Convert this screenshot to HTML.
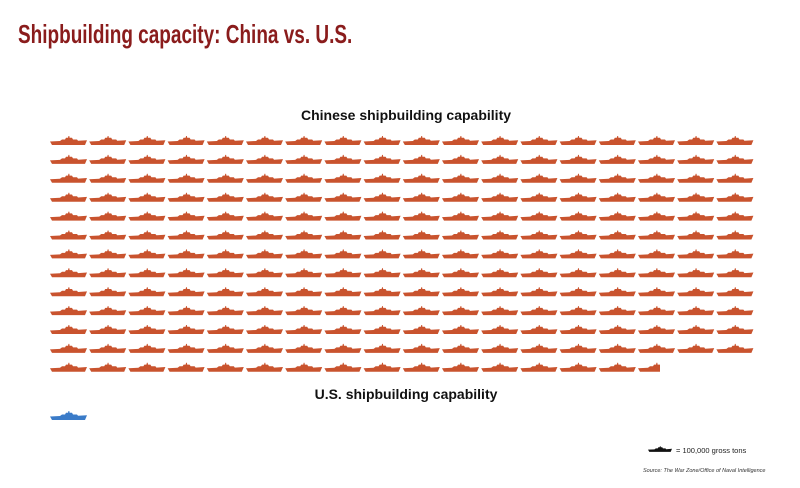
<!DOCTYPE html>
<html><head><meta charset="utf-8"><style>
body{margin:0;width:800px;height:488px;background:#fff;overflow:hidden;position:relative;font-family:"Liberation Sans",sans-serif}
.t{position:absolute;left:18px;top:19px;font-family:"Liberation Sans Narrow","Liberation Sans",sans-serif;font-weight:bold;font-size:26px;color:#8a1c1c;transform:scaleX(.73);transform-origin:left top;white-space:nowrap}
.h{position:absolute;width:800px;left:6px;text-align:center;font-weight:bold;font-size:14px;color:#111}
</style></head><body>
<div class="t">Shipbuilding capacity: China vs. U.S.</div>
<div class="h" style="top:107px">Chinese shipbuilding capability</div>
<div class="h" style="top:386px">U.S. shipbuilding capability</div>
<svg width="800" height="488" style="position:absolute;left:0;top:0">
<defs><symbol id="s" viewBox="0 0 37 9" overflow="visible"><path d="M0,5.5 L10,5 L12,3.5 L15,3.5 L16,1.8 L18,1.8 L18.5,0 L19.3,0 L19.6,1.8 L22,1.8 L23,3.5 L27,3.5 L28,4.8 L37,4.2 L35,9 L2,9 Z"/></symbol>
<clipPath id="c" clipPathUnits="userSpaceOnUse"><rect x="0" y="0" width="660" height="488"/></clipPath></defs>
<g fill="#c9532e" id="g"></g>
<g fill="#c9532e" clip-path="url(#c)"><use href="#s" x="638" y="362.8" width="37" height="9"/></g>
<use href="#s" x="50" y="411" width="37" height="9" fill="#3a7bc8"/>
<use href="#s" x="648" y="446" width="24" height="6" fill="#111"/>
<text x="676" y="453" font-size="7.5" fill="#222">= 100,000 gross tons</text>
<text x="643" y="472" font-size="5.5" font-style="italic" fill="#333">Source: The War Zone/Office of Naval Intelligence</text>
</svg>
<script>
var g=document.getElementById('g'),h='';
for(var r=0;r<13;r++)for(var c=0;c<18;c++){
 if(r==12&&c>14)break;
 var x=50+c*39.2,y=136+r*18.9;
 h+='<use href="#s" x="'+x.toFixed(1)+'" y="'+y.toFixed(1)+'" width="37" height="9"/>';
}
g.innerHTML=h;
</script>
</body></html>
